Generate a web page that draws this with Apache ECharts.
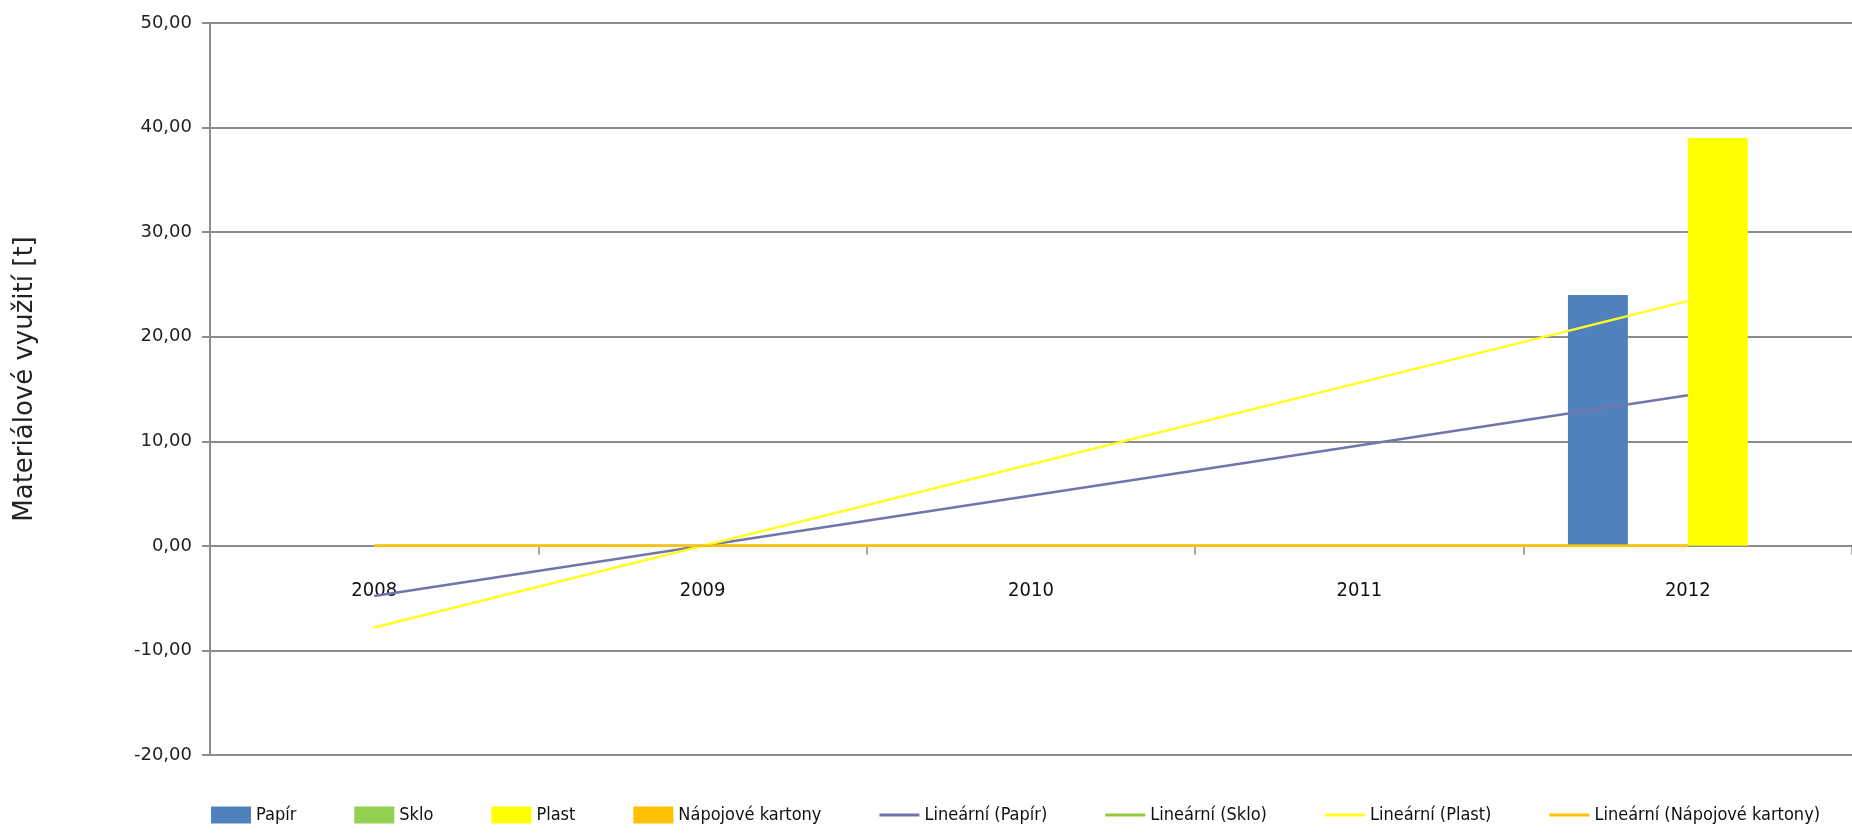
<!DOCTYPE html>
<html>
<head>
<meta charset="utf-8">
<script src="https://cdn.jsdelivr.net/npm/echarts@6/dist/echarts.min.js"></script>
<style>
html,body{margin:0;padding:0;background:#fff;}
#chart{width:1852px;height:833px;}
</style>
</head>
<body>
<div id="chart"></div>
<script>
const categories = ['2008', '2009', '2010', '2011', '2012'];
const papir = [0, 0, 0, 0, 24];
const sklo = [0, 0, 0, 0, 0];
const plast = [0, 0, 0, 0, 39];
const napojove = [0, 0, 0, 0, 0];
// trendline endpoints (2008 and 2012)
const trendPapir = [-4.8, null, null, null, 14.4];
const trendSklo = [0, null, null, null, 0];
const trendPlast = [-7.8, null, null, null, 23.4];
const trendNapojove = [0, null, null, null, 0];
const yTicks = { min: -20, max: 50, step: 10 };

const narrow = "'DejaVu Sans Condensed', 'Liberation Sans Narrow', sans-serif";
const chart = echarts.init(document.getElementById('chart'), null, { renderer: 'canvas' });

const gridTop = 23, gridBottom = 78, chartH = 833;
const plotH = chartH - gridTop - gridBottom;
// move the category axis up to the value 0 line
const zeroOffset = -plotH * (0 - yTicks.min) / (yTicks.max - yTicks.min);

function trend(name, data, color) {
  return {
    name: name, type: 'line', data: data, connectNulls: true,
    symbol: 'none', showSymbol: false, silent: true,
    lineStyle: { color: color, width: 2.5 }, itemStyle: { color: color },
    z: 3
  };
}
const lineIcon = 'path://M0 0H40V3H0Z';

chart.setOption({
  animation: false,
  backgroundColor: '#ffffff',
  grid: { left: 210, right: -2, top: gridTop, bottom: gridBottom, containLabel: false },
  legend: {
    left: 206, top: 801, itemWidth: 40, itemHeight: 17, itemGap: 58,
    textStyle: { fontFamily: narrow, fontSize: 18, color: '#111' },
    data: [
      { name: 'Papír', icon: 'rect' },
      { name: 'Sklo', icon: 'rect' },
      { name: 'Plast', icon: 'rect' },
      { name: 'Nápojové kartony', icon: 'rect' },
      { name: 'Lineární (Papír)', icon: lineIcon },
      { name: 'Lineární (Sklo)', icon: lineIcon },
      { name: 'Lineární (Plast)', icon: lineIcon },
      { name: 'Lineární (Nápojové kartony)', icon: lineIcon }
    ]
  },
  xAxis: {
    type: 'category', data: categories, position: 'bottom', offset: zeroOffset,
    axisLine: { onZero: false, lineStyle: { color: '#8c8c8c', width: 2 } },
    axisTick: { show: true, length: 9, inside: false, lineStyle: { color: '#8c8c8c', width: 1.5 } },
    axisLabel: { margin: 35, fontFamily: narrow, fontSize: 20, color: '#111' },
    splitLine: { show: false }
  },
  yAxis: {
    type: 'value', min: yTicks.min, max: yTicks.max, interval: yTicks.step,
    name: 'Materiálové využití [t]', nameLocation: 'middle', nameGap: 172,
    nameTextStyle: { fontFamily: 'DejaVu Sans', fontSize: 26, color: '#222', padding: [0, 0, 0, 20] },
    axisLine: { show: true, lineStyle: { color: '#8c8c8c', width: 2 } },
    axisTick: { show: true, length: 8, lineStyle: { color: '#8c8c8c', width: 2 } },
    axisLabel: {
      margin: 18, fontFamily: 'DejaVu Sans', fontSize: 18, color: '#222',
      formatter: v => v.toFixed(2).replace('.', ',')
    },
    splitLine: { show: true, lineStyle: { color: '#8c8c8c', width: 2 } }
  },
  series: [
    { name: 'Papír', type: 'bar', data: papir, barGap: '0%', barCategoryGap: '27%', itemStyle: { color: '#4F81BD' } },
    { name: 'Sklo', type: 'bar', data: sklo, itemStyle: { color: '#92D050' } },
    { name: 'Plast', type: 'bar', data: plast, itemStyle: { color: '#FFFF00' } },
    { name: 'Nápojové kartony', type: 'bar', data: napojove, itemStyle: { color: '#FFC000' } },
    trend('Lineární (Papír)', trendPapir, '#7474AC'),
    trend('Lineární (Sklo)', trendSklo, '#92C83E'),
    trend('Lineární (Plast)', trendPlast, '#FFFF22'),
    trend('Lineární (Nápojové kartony)', trendNapojove, '#FFC000')
  ]
});
</script>
</body>
</html>
